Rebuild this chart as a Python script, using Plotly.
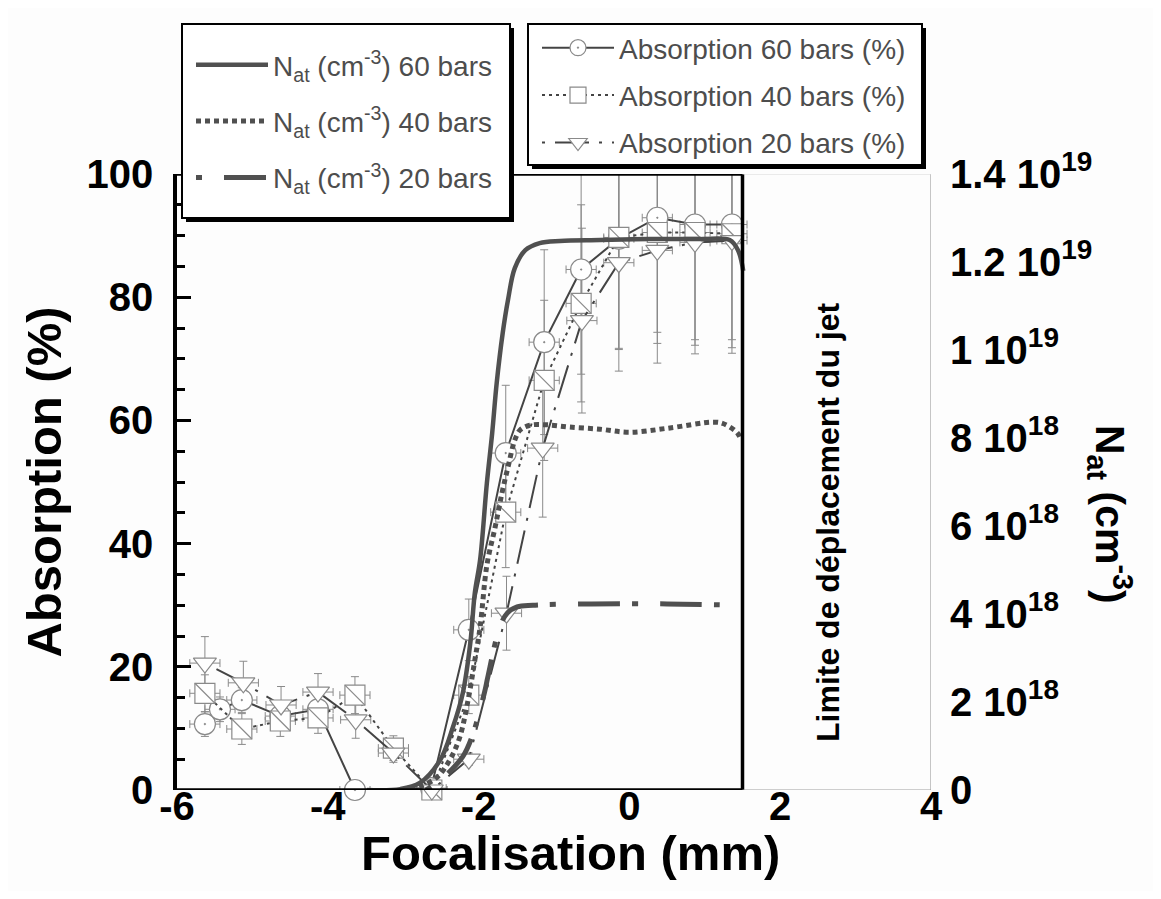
import plotly.graph_objects as go

# ---------------- data ----------------
# Atomic density curves (right axis), x in mm, density in units of 1e18 cm^-3
nat60_x = [-3.48, -3.04, -2.78, -2.51, -2.34, -2.21, -2.11, -2.05, -1.98, -1.89, -1.82, -1.76,
           -1.68, -1.61, -1.52, -1.38, -1.19, -0.92, -0.39, 0.27, 0.94, 1.33, 1.44, 1.51]
nat60_n = [0.0, 0.02, 0.16, 0.68, 1.43, 2.20, 3.34, 4.48, 5.23, 6.98, 8.11, 9.25,
           10.39, 11.14, 11.86, 12.27, 12.43, 12.48, 12.50, 12.52, 12.52, 12.50, 12.27, 11.80]

nat40_x = [-2.9, -2.78, -2.55, -2.38, -2.25, -2.14, -2.05, -1.98, -1.89, -1.78, -1.69, -1.61,
           -1.52, -1.45, -1.32, -1.10, -0.80, -0.39, 0.0, 0.5, 1.11, 1.24, 1.43, 1.48]
nat40_n = [0.0, 0.07, 0.29, 0.69, 1.20, 2.04, 2.95, 3.70, 5.11, 5.98, 6.75, 7.34,
           7.95, 8.18, 8.29, 8.30, 8.25, 8.20, 8.13, 8.22, 8.36, 8.33, 8.12, 7.95]

nat20_x = [-2.70, -2.51, -2.21, -2.09, -1.92, -1.88, -1.72, -1.62, -1.49, -1.28, -0.5, 0.5, 1.4]
nat20_n = [0.0, 0.22, 0.76, 1.20, 2.23, 2.55, 3.70, 4.02, 4.16, 4.20, 4.23, 4.23, 4.20]

# Absorption measurements (left axis, %)
abs60_x = [-5.63, -5.43, -5.14, -4.63, -4.13, -3.64, -2.63, -2.13, -1.64, -1.13, -0.64, -0.14, 0.37, 0.87, 1.36]
abs60_y = [10.7, 13.1, 14.6, 12.0, 13.1, 0.0, 0.3, 26.0, 54.7, 72.7, 84.5, 89.5, 92.9, 91.8, 91.8]
abs60_e = [2.0, 2.0, 2.0, 2.0, 2.5, 0.0, 0.0, 5.0, 11.0, 15.0, 17.0, 18.0, 18.6, 18.7, 18.7]

abs40_x = [-5.63, -5.14, -4.63, -4.13, -3.64, -3.13, -2.62, -2.13, -1.64, -1.13, -0.64, -0.14, 0.37, 0.87, 1.36]
abs40_y = [15.7, 9.9, 11.2, 11.7, 15.4, 6.8, 0.0, 15.4, 45.1, 66.5, 79.0, 89.7, 90.5, 90.5, 90.3]
abs40_e = [3.0, 2.5, 2.5, 2.5, 3.0, 2.0, 0.0, 3.0, 9.0, 13.0, 16.0, 18.0, 18.0, 18.3, 18.5]

abs20_x = [-5.63, -5.12, -4.62, -4.13, -3.63, -3.13, -2.62, -2.13, -1.63, -1.15, -0.63, -0.14, 0.37, 0.87, 1.36]
abs20_y = [20.6, 17.4, 13.8, 15.9, 11.4, 6.0, 0.0, 5.0, 28.7, 55.5, 76.2, 85.6, 87.6, 88.9, 89.2]
abs20_e = [4.3, 3.5, 3.0, 3.0, 3.0, 1.5, 0.0, 1.0, 6.0, 11.2, 15.0, 17.6, 18.3, 18.1, 18.3]

x_err = 0.2  # horizontal uncertainty (mm)

x_tick_vals = [-6, -4, -2, 0, 2, 4]
x_tick_text = ["-6", "-4", "-2", "0", "2", "4"]
y_tick_vals = [0, 20, 40, 60, 80, 100]
n_tick_vals = [0, 2e18, 4e18, 6e18, 8e18, 1e19, 1.2e19, 1.4e19]
n_tick_text = ["0", "2 10<sup>18</sup>", "4 10<sup>18</sup>", "6 10<sup>18</sup>", "8 10<sup>18</sup>",
               "1 10<sup>19</sup>", "1.2 10<sup>19</sup>", "1.4 10<sup>19</sup>"]
jet_limit = 1.5

# ---------------- style ----------------
FONT = "Liberation Sans, Arial, sans-serif"
DARK = "#505050"
MK = "#8a8a8a"

fig = go.Figure()

def e18(v):
    return [a * 1e18 for a in v]

# Nat curves
fig.add_trace(go.Scatter(x=nat60_x, y=e18(nat60_n), yaxis="y2", mode="lines",
                         line=dict(color=DARK, width=4.5, shape="spline"),
                         name="N<sub>at</sub> (cm<sup>-3</sup>) 60 bars",
                         legend="legend", legendgroup="n60"))
fig.add_trace(go.Scatter(x=nat40_x, y=e18(nat40_n), yaxis="y2", mode="lines",
                         line=dict(color=DARK, width=5, dash="5px,4px", shape="spline"),
                         name="N<sub>at</sub> (cm<sup>-3</sup>) 40 bars",
                         legend="legend", legendgroup="n40"))
fig.add_trace(go.Scatter(x=nat20_x, y=e18(nat20_n), yaxis="y2", mode="lines",
                         line=dict(color=DARK, width=5, dash="6px,22px,42px,12px", shape="spline"),
                         name="N<sub>at</sub> (cm<sup>-3</sup>) 20 bars",
                         legend="legend", legendgroup="n20"))

# error bars (clipped to the plot area)
for xs, ys, es in [(abs60_x, abs60_y, abs60_e), (abs40_x, abs40_y, abs40_e), (abs20_x, abs20_y, abs20_e)]:
    fig.add_trace(go.Scatter(x=xs, y=ys, mode="markers", marker=dict(size=1, opacity=0),
                             error_y=dict(type="data", array=es, color=MK, thickness=1, width=4),
                             error_x=dict(type="constant", value=x_err, color=MK, thickness=1, width=4),
                             showlegend=False, hoverinfo="skip", cliponaxis=True))

# absorption series
fig.add_trace(go.Scatter(x=abs60_x, y=abs60_y, mode="lines+markers", cliponaxis=False,
                         line=dict(color="#444444", width=2),
                         marker=dict(symbol="circle-dot", size=21, color="white",
                                     line=dict(color=MK, width=1.2)),
                         name="Absorption 60 bars (%)", legend="legend2", legendgroup="a60"))
fig.add_trace(go.Scatter(x=abs40_x, y=abs40_y, mode="lines+markers", cliponaxis=False,
                         line=dict(color="#444444", width=2, dash="3px,4px"),
                         marker=dict(symbol="square", size=20, color="white",
                                     line=dict(color=MK, width=1.2)),
                         name="Absorption 40 bars (%)", legend="legend2", legendgroup="a40"))
fig.add_trace(go.Scatter(x=abs40_x, y=abs40_y, mode="markers", cliponaxis=False,
                         marker=dict(symbol="line-nw", size=20, line=dict(color=MK, width=1.2)),
                         showlegend=False, hoverinfo="skip"))
fig.add_trace(go.Scatter(x=abs20_x, y=abs20_y, mode="lines+markers", cliponaxis=False,
                         line=dict(color="#444444", width=2, dash="3px,10px,34px,10px"),
                         marker=dict(symbol="triangle-down", size=20, color="white",
                                     line=dict(color=MK, width=1.2)),
                         name="Absorption 20 bars (%)", legend="legend2", legendgroup="a20"))

# plot-area geometry (px) used to place paper-referenced boxes
PL, PT, PW, PH = 177, 174, 754, 616
def px(xp):
    return (xp - PL) / PW
def py(yp):
    return (PT + PH - yp) / PH

# frame
shapes = [
    dict(type="line", xref="x", yref="y", x0=-6, x1=jet_limit, y0=0, y1=0, line=dict(color="black", width=3.5)),
    dict(type="line", xref="x", yref="y", x0=-6, x1=jet_limit, y0=100, y1=100, line=dict(color="black", width=3.5)),
    dict(type="line", xref="x", yref="y", x0=jet_limit, x1=jet_limit, y0=0, y1=100, line=dict(color="black", width=3.5)),
    dict(type="line", xref="x", yref="y", x0=jet_limit, x1=4, y0=0, y1=0, line=dict(color="#a0a0a0", width=1.2)),
    dict(type="line", xref="x", yref="y", x0=4, x1=4, y0=0, y1=100, line=dict(color="#a0a0a0", width=1.2)),
    dict(type="line", xref="x", yref="y", x0=jet_limit, x1=4, y0=100, y1=100, line=dict(color="#d8d8d8", width=1)),
]
# legend boxes with drop shadow
for (x0, y0, x1, y1) in [(182, 24, 510, 218), (528, 24, 922, 165)]:
    shapes.append(dict(type="rect", xref="paper", yref="paper", layer="above",
                       x0=px(x0 + 4), x1=px(x1 + 4), y0=py(y0 + 4), y1=py(y1 + 4),
                       fillcolor="black", line=dict(width=0)))
    shapes.append(dict(type="rect", xref="paper", yref="paper", layer="above",
                       x0=px(x0), x1=px(x1), y0=py(y0), y1=py(y1),
                       fillcolor="white", line=dict(color="black", width=2)))

tickfont = dict(family=FONT, size=40, color="black", weight="bold")
legfont = dict(family=FONT, size=28, color="#4d4d4d")
titlefont = dict(family=FONT, size=49, color="black", weight="bold")

fig.update_layout(
    width=1145, height=883,
    margin=dict(l=169, r=222, t=166, b=101),
    paper_bgcolor="#fdfdfd", plot_bgcolor="#fdfdfd",
    showlegend=True,
    shapes=shapes,
    xaxis=dict(range=[-6, 4], tickmode="array", tickvals=x_tick_vals, ticktext=x_tick_text,
               ticks="", showline=False, zeroline=False, showgrid=False, tickfont=tickfont,
               ticklabelstandoff=-11),
    xaxis2=dict(range=[-6, 4], overlaying="x", anchor="y", side="bottom", showticklabels=False,
                showline=False, zeroline=False, showgrid=False, mirror="ticks",
                tickmode="array", tickvals=[-6, -4, -2, 0], ticks="inside", ticklen=14, tickwidth=3,
                tickcolor="black",
                minor=dict(tickmode="array", tickvals=[-5.5, -5, -4.5, -3.5, -3, -2.5, -1.5, -1, -0.5, 0.5, 1.0],
                           ticks="inside", ticklen=8, tickwidth=3, tickcolor="black")),
    yaxis=dict(range=[0, 100], tickmode="array", tickvals=y_tick_vals, ticks="inside", ticklen=14,
               tickwidth=3, tickcolor="black", showline=True, linewidth=3.5, linecolor="black",
               zeroline=False, showgrid=False, tickfont=tickfont, ticklabelstandoff=12,
               minor=dict(dtick=5, ticks="inside", ticklen=8, tickwidth=3, tickcolor="black"),
               title=dict(text="Absorption (%)", font=titlefont, standoff=10)),
    yaxis2=dict(range=[0, 1.4e19], overlaying="y", side="right", anchor="x", tickmode="array",
                tickvals=n_tick_vals, ticktext=n_tick_text, ticks="", showline=False, zeroline=False,
                showgrid=False, tickfont=tickfont, ticklabelstandoff=18),
    legend=dict(x=px(191), y=py(40), xanchor="left", yanchor="top", bgcolor="rgba(0,0,0,0)",
                borderwidth=0, font=legfont, itemwidth=72,
                traceorder="grouped", tracegroupgap=17),
    legend2=dict(x=px(537), y=py(23), xanchor="left", yanchor="top", bgcolor="rgba(0,0,0,0)",
                 borderwidth=0, font=legfont, itemwidth=72,
                 traceorder="grouped", tracegroupgap=8),
    annotations=[
        dict(text="Focalisation (mm)", xref="paper", yref="paper", x=px(570), y=py(853),
             xanchor="center", yanchor="middle", showarrow=False, font=titlefont),
        dict(text="N<sub>at</sub> (cm<sup>-3</sup>)", xref="paper", yref="paper", x=px(1110), y=py(514),
             xanchor="center", yanchor="middle",
             showarrow=False, textangle=90, font=dict(family=FONT, size=41, color="black", weight="bold")),
        dict(text="Limite de déplacement du jet", xref="paper", yref="paper", x=px(828), y=py(522),
             xanchor="center", yanchor="middle",
             showarrow=False, textangle=-90, font=dict(family=FONT, size=32, color="black", weight="bold")),
    ],
)

fig.write_html("out.html")
